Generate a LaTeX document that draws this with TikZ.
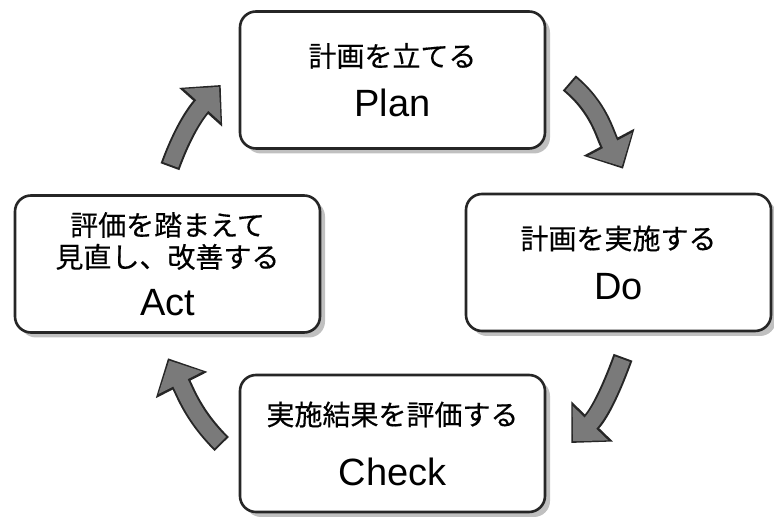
\documentclass[tikz,border=0pt]{standalone}
\usepackage{fontspec}
\setmainfont{Liberation Sans}
\newfontfamily\jp{Noto Sans CJK JP}[FakeBold=0.4]
\usetikzlibrary{arrows.meta}
\usetikzlibrary{shadows}

\tikzset{
  stage/.style={draw=black!85, line width=2.6pt, rounded corners=16pt, fill=white,
    minimum width=305pt, minimum height=137pt, align=center, inner sep=0pt,
    drop shadow={shadow xshift=5pt, shadow yshift=-5pt, fill=black!45, opacity=0.55},
    font=\jp\fontsize{28}{34}\selectfont},
  cyc/.style={line width=20pt, draw=black!85, -{Triangle[length=30pt,width=56pt]},
    postaction={draw=black!52, line width=16pt, -{Triangle[length=25pt,width=48pt]},
      shorten >=2.5pt, shorten <=2pt}},
}
\newcommand{\eng}[1]{{\normalfont\fontsize{38}{34}\selectfont #1}}

\begin{document}
\begin{tikzpicture}[x=1pt, y=1pt]
    \useasboundingbox (0, 0) rectangle (774, 519);

    \node (plan) at (392.5, 439) [stage] {計画を立てる\\[16pt]\eng{Plan}};
    \node (do) at (618.5, 256.5) [stage] {計画を実施する\\[16pt]\eng{Do}};
    \node (check) at (392.5, 75.5) [stage] {実施結果を評価する\\[26pt]\eng{Check}};
    \node (act) at (167.5, 255) [stage] {評価を踏まえて\\[-2pt]見直し、改善する\\[14pt]\eng{Act}};

    \draw[cyc] ([shift={(2.5, 27.5)}]act.north) to[out=70, in=228] ([shift={(-18, -5)}]plan.west);
    \draw[cyc] ([shift={(23, -3)}]plan.east) to[out=-40, in=118] ([shift={(4.5, 24)}]do.north);
    \draw[cyc] ([shift={(4.5, -25)}]do.south) to[out=-110, in=46] ([shift={(25, 0.5)}]check.east);
    \draw[cyc] ([shift={(-17, -0.5)}]check.west) to[out=135, in=-63] ([shift={(0.5, -24.5)}]act.south);
\end{tikzpicture}
\end{document}
